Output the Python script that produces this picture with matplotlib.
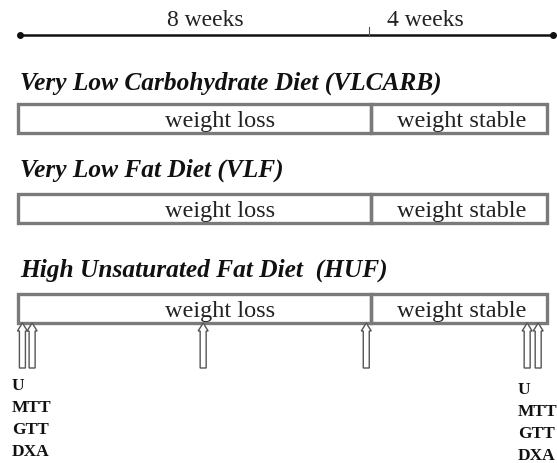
import matplotlib.pyplot as plt
from matplotlib.patches import Rectangle, FancyArrow

# study design data
phase_names = ["weight loss", "weight stable"]
phase_weeks = [8, 4]
diets = ["Very Low Carbohydrate Diet (VLCARB)",
         "Very Low Fat Diet (VLF)",
         "High Unsaturated Fat Diet  (HUF)"]
timeline_labels = ["8 weeks", "4 weeks"]
arrow_weeks = [0.1, 0.32, 4.2, 7.9, 11.55, 11.8]
measures = ["U", "MTT", "GTT", "DXA"]

W, H = 557, 464
X0, X1 = 18, 547
total = sum(phase_weeks)
pxw = (X1 - X0) / total


def wx(week):
    return X0 + week * pxw


plt.rcParams['font.family'] = ['Liberation Serif', 'DejaVu Serif']
fig = plt.figure(figsize=(W / 100, H / 100), dpi=100)
ax = fig.add_axes([0, 0, 1, 1])
ax.set_xlim(0, W)
ax.set_ylim(H, 0)
ax.axis('off')

# timeline
ty = 36
ax.plot([20, 553], [ty, ty], color='#111', lw=1.8)
ax.plot([20, 553], [ty, ty], 'o', color='#111', ms=4)
ax.plot([wx(8) - 2, wx(8) - 2], [ty - 8, ty], color='#555', lw=0.8)
ax.text(205, 21, timeline_labels[0], ha='center', va='center', fontsize=17, color='#222')
ax.text(425, 21, timeline_labels[1], ha='center', va='center', fontsize=17, color='#222')

# diet rows
title_y = [83, 170, 270]
box_top = [105, 195, 295]
box_h = 29
gray = '#7a7a7a'
for d, tyy, bt in zip(diets, title_y, box_top):
    ax.text(20, tyy, d, ha='left', va='center', fontsize=18.3,
            fontweight='bold', fontstyle='italic', color='#111')
    start = 0
    for name, wk in zip(phase_names, phase_weeks):
        ax.add_patch(Rectangle((wx(start), bt), wk * pxw, box_h, fill=False,
                               ec=gray, lw=2.4))
        ax.text(wx(start + wk / 2) + (26 if start == 0 else 3), bt + box_h / 2 + 2,
                name, ha='center', va='center', fontsize=17.5, color='#222')
        start += wk

# measurement arrows under the last row
a_bot = 369
a_top = box_top[-1] + box_h
for w in arrow_weeks:
    ax.add_patch(FancyArrow(wx(w), a_bot, 0, a_top - a_bot, width=6,
                            head_width=10, head_length=8,
                            length_includes_head=True, fc='white', ec='#555', lw=1))

for x0, y0 in [(12, 386), (518, 390)]:
    for i, m in enumerate(measures):
        ax.text(x0, y0 + i * 22, m, ha='left', va='center', fontsize=12.5,
                fontweight='bold', color='#111')

fig.savefig('out.png', dpi=100)
